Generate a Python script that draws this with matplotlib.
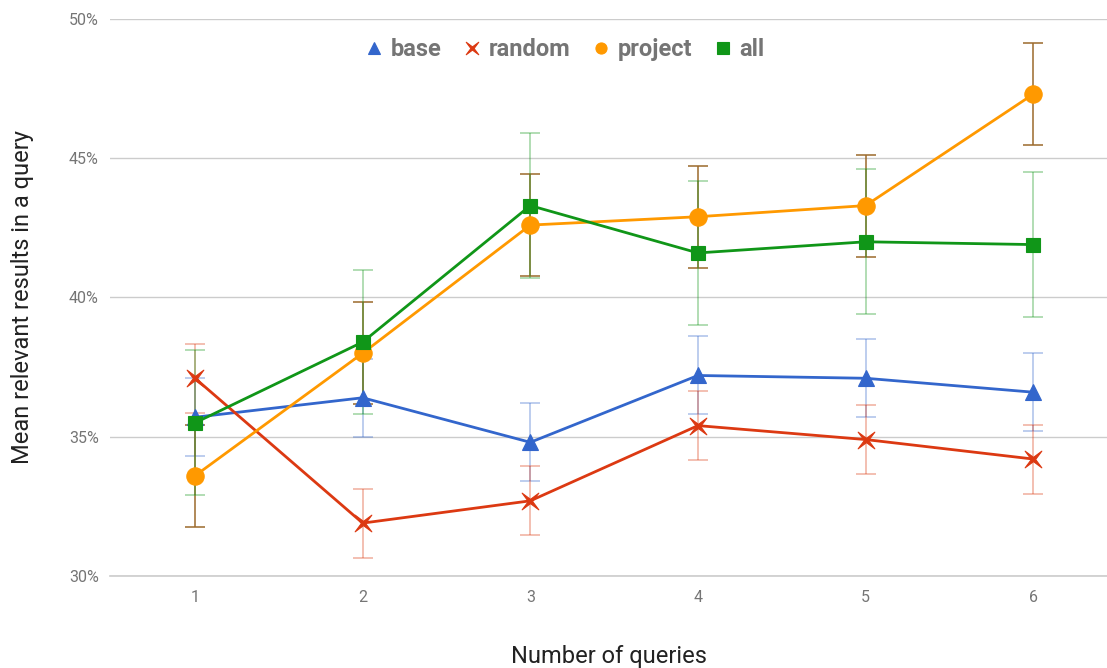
import matplotlib.pyplot as plt
import numpy as np
from matplotlib.ticker import FuncFormatter
from matplotlib.path import Path

plt.rcParams['font.family'] = ['Roboto', 'DejaVu Sans']

queries = [1, 2, 3, 4, 5, 6]

base = [35.7, 36.4, 34.8, 37.2, 37.1, 36.6]
random = [37.1, 31.9, 32.7, 35.4, 34.9, 34.2]
project = [33.6, 38.0, 42.6, 42.9, 43.3, 47.3]
all_ = [35.5, 38.4, 43.3, 41.6, 42.0, 41.9]

base_err = [1.4] * 6
random_err = [1.24] * 6
project_err = [1.83] * 6
all_err = [2.6] * 6

# thin four-pointed star (diagonal arms) like the google "x" marker
r_in = 0.18
ang_tip = np.deg2rad([45, 135, 225, 315])
ang_in = np.deg2rad([90, 180, 270, 0])
verts = []
for t, i in zip(ang_tip, ang_in):
    verts.append((np.cos(t), np.sin(t)))
    verts.append((r_in * np.cos(i), r_in * np.sin(i)))
verts.append(verts[0])
star = Path(verts, [Path.MOVETO] + [Path.LINETO] * 7 + [Path.CLOSEPOLY])

series = [
    ("base", base, base_err, "#3366cc", "#3366cc", 0.35, "^", 11),
    ("random", random, random_err, "#dc3912", "#dc3912", 0.35, star, 12),
    ("project", project, project_err, "#ff9900", "#9c6a2c", 0.85, "o", 12.5),
    ("all", all_, all_err, "#109618", "#109618", 0.35, "s", 9.5),
]

fig = plt.figure(figsize=(11.07, 6.68), dpi=100)
ax = fig.add_axes([0.0994, 0.1377, 0.9006, 0.8339])

for name, vals, err, col, ecol, ealpha, mk, ms in series:
    ax.errorbar(queries, vals, yerr=err, fmt="none", ecolor=ecol,
                elinewidth=1.3, capsize=7, capthick=1.3, alpha=ealpha, zorder=2)

handles = []
for name, vals, err, col, ecol, ealpha, mk, ms in series:
    ax.plot(queries, vals, color=col, lw=2, marker=mk, markersize=ms,
            markeredgecolor=col, markeredgewidth=0.8, zorder=3)
    h, = ax.plot([], [], color=col, lw=0, marker=mk,
                 markersize=8 if name != "random" else 9, markeredgewidth=0.8)
    handles.append(h)

ax.set_xlim(0.493, 6.44)
ax.set_ylim(30, 50)
ax.set_yticks([30, 35, 40, 45, 50])
ax.yaxis.set_major_formatter(FuncFormatter(lambda v, p: f"{v:.0f}%"))
ax.set_xticks(queries)
ax.grid(axis="y", color="#cccccc", lw=1)
ax.axhline(30, color="#cccccc", lw=1.2, zorder=1, clip_on=False)
ax.set_axisbelow(True)
for s in ax.spines.values():
    s.set_visible(False)
ax.tick_params(length=0, colors="#757575", labelsize=11.5, pad=10)
ax.tick_params(axis="y", pad=8)

ax.set_xlabel("Number of queries", fontsize=17, color="#222222", labelpad=29)
ax.set_ylabel("Mean relevant results in a query", fontsize=17, color="#222222", labelpad=25)

fig.legend(handles, ["base", "random", "project", "all"], loc="center",
           bbox_to_anchor=(0.508, 0.926), ncol=4, frameon=False,
           prop={"weight": "bold", "size": 17}, labelcolor="#757575",
           handletextpad=0.1, columnspacing=0.7, handlelength=1.2)

fig.savefig("out.png", dpi=100)
